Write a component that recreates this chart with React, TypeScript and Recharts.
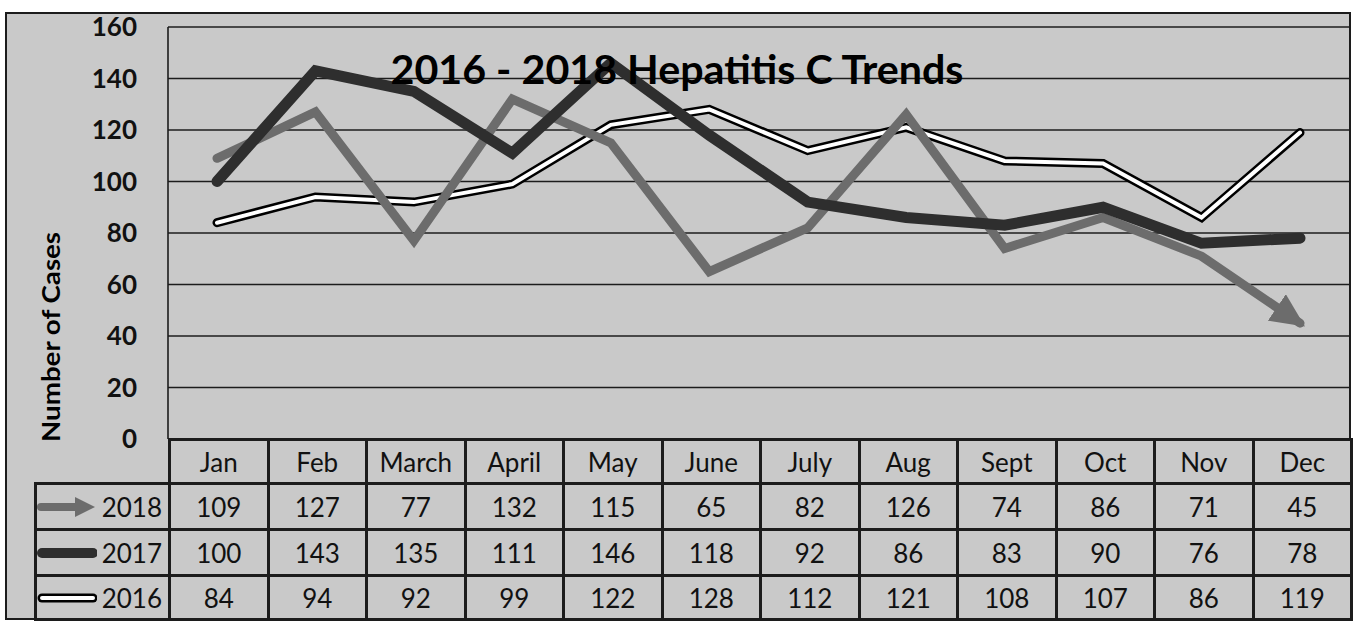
import React from 'react';
import { LineChart, Line, XAxis, YAxis, CartesianGrid } from 'recharts';

const months = ['Jan', 'Feb', 'March', 'April', 'May', 'June', 'July', 'Aug', 'Sept', 'Oct', 'Nov', 'Dec'];
const cases2018 = [109, 127, 77, 132, 115, 65, 82, 126, 74, 86, 71, 45];
const cases2017 = [100, 143, 135, 111, 146, 118, 92, 86, 83, 90, 76, 78];
const cases2016 = [84, 94, 92, 99, 122, 128, 112, 121, 108, 107, 86, 119];
const yTicks = [0, 20, 40, 60, 80, 100, 120, 140, 160];

const data = months.map((m, i) => ({
    month: m,
    y2018: cases2018[i],
    y2017: cases2017[i],
    y2016: cases2016[i],
}));

const rows = [
    { name: '2018', values: cases2018, kind: 'arrow' },
    { name: '2017', values: cases2017, kind: 'thick' },
    { name: '2016', values: cases2016, kind: 'double' },
];

const FONT = 'Lato, "Open Sans", sans-serif';
const BG = '#c9c9c9';
const INK = '#1c1c1c';
const GRAY = '#6c6c6c';
const DARK = '#2e2e2e';

const LegendIcon = ({ kind }: { kind: string }) => (
    <svg width={60} height={22} style={{ display: 'block' }}>
        {kind === 'arrow' && (
            <>
                <line x1={4} y1={11} x2={40} y2={11} stroke={GRAY} strokeWidth={8} strokeLinecap="round" />
                <path d="M38,1 L58,11 L38,21 Z" fill={GRAY} />
            </>
        )}
        {kind === 'thick' && (
            <line x1={5} y1={11} x2={56} y2={11} stroke={DARK} strokeWidth={10} strokeLinecap="round" />
        )}
        {kind === 'double' && (
            <>
                <line x1={5} y1={11} x2={56} y2={11} stroke="#000" strokeWidth={9} strokeLinecap="round" />
                <line x1={5} y1={11} x2={56} y2={11} stroke="#fff" strokeWidth={4} strokeLinecap="round" />
            </>
        )}
    </svg>
);

const cell: React.CSSProperties = {
    border: `3px solid ${INK}`,
    textAlign: 'center',
    padding: 0,
    fontFamily: FONT,
    fontSize: 26,
    color: '#111',
    background: BG,
};

export default function App() {
    return (
        <div style={{ position: 'absolute', left: 0, top: 0, width: 1355, height: 622, background: '#fff', overflow: 'hidden' }}>
            <svg width={0} height={0} style={{ position: 'absolute' }}>
                <defs>
                    <marker id="arrow2018" markerUnits="userSpaceOnUse" markerWidth={34} markerHeight={32}
                        viewBox="0 0 34 32" refX={28} refY={16} orient="auto">
                        <path d="M0,0 L34,16 L0,32 Z" fill={GRAY} />
                    </marker>
                </defs>
            </svg>

            {/* outer frame */}
            <div style={{
                position: 'absolute', left: 5, top: 12, width: 1342, height: 604,
                background: BG, border: `2px solid ${INK}`
            }} />

            <div style={{ position: 'absolute', left: 0, top: 0 }}>
                <LineChart width={1355} height={470} data={data}
                    margin={{ top: 27, right: 6, bottom: 31, left: 0 }}>
                    <CartesianGrid vertical={false} stroke={INK} strokeWidth={1.6} />
                    <XAxis dataKey="month" hide padding={{ left: 49, right: 49 }} />
                    <YAxis domain={[0, 160]} ticks={yTicks} interval={0} width={168}
                        axisLine={{ stroke: INK, strokeWidth: 1.6 }} tickLine={false}
                        tickSize={0} tickMargin={31}
                        tick={{ fill: '#111', fontSize: 26, fontWeight: 700, fontFamily: FONT }} />
                    <YAxis yAxisId="r" orientation="right" domain={[0, 160]} width={0}
                        axisLine={{ stroke: INK, strokeWidth: 1.6 }} tick={false} tickLine={false} />
                    <Line dataKey="y2016" stroke="#000" strokeWidth={9} dot={false} activeDot={false}
                        strokeLinecap="round" isAnimationActive={false} />
                    <Line dataKey="y2016" stroke="#fff" strokeWidth={4} dot={false} activeDot={false}
                        strokeLinecap="round" isAnimationActive={false} />
                    <Line dataKey="y2018" stroke={GRAY} strokeWidth={9} dot={false} activeDot={false}
                        strokeLinecap="round" markerEnd="url(#arrow2018)" isAnimationActive={false} />
                    <Line dataKey="y2017" stroke={DARK} strokeWidth={11} dot={false} activeDot={false}
                        strokeLinecap="round" isAnimationActive={false} />
                </LineChart>
            </div>

            {/* title and axis label */}
            <svg width={1355} height={622} style={{ position: 'absolute', left: 0, top: 0, pointerEvents: 'none' }}>
                <text x={677} y={84} textAnchor="middle" fontFamily={FONT} fontWeight={700} fontSize={40}
                    textLength={573} lengthAdjust="spacingAndGlyphs" fill="#000">
                    2016 - 2018 Hepatitis C Trends
                </text>
                <text x={0} y={0} transform="translate(60,337) rotate(-90)" textAnchor="middle"
                    fontFamily={FONT} fontWeight={700} fontSize={25} textLength={210}
                    lengthAdjust="spacingAndGlyphs" fill="#000">
                    Number of Cases
                </text>
            </svg>

            {/* data table */}
            <table style={{
                position: 'absolute', left: 34, top: 438, width: 1316, borderCollapse: 'collapse',
                tableLayout: 'fixed'
            }}>
                <colgroup>
                    <col style={{ width: 134 }} />
                    {months.map(m => <col key={m} style={{ width: 98.5 }} />)}
                </colgroup>
                <tbody>
                    <tr style={{ height: 44 }}>
                        <td style={{ border: 'none', background: 'transparent' }} />
                        {months.map(m => <td key={m} style={cell}>{m}</td>)}
                    </tr>
                    {rows.map((r, ri) => (
                        <tr key={r.name} style={{ height: ri === 2 ? 44 : 46 }}>
                            <td style={{ ...cell, textAlign: 'right' }}>
                                <div style={{ display: 'flex', alignItems: 'center', justifyContent: 'space-between', paddingRight: 6 }}>
                                    <LegendIcon kind={r.kind} />
                                    <span>{r.name}</span>
                                </div>
                            </td>
                            {r.values.map((v, i) => <td key={i} style={cell}>{v}</td>)}
                        </tr>
                    ))}
                </tbody>
            </table>
        </div>
    );
}
